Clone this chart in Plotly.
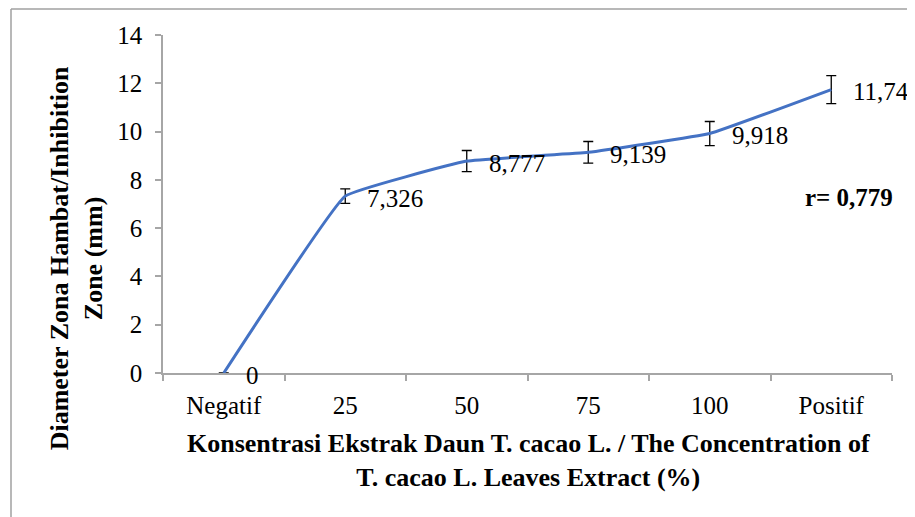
import plotly.graph_objects as go

categories = ["Negatif", "25", "50", "75", "100", "Positif"]
values = [0, 7.326, 8.777, 9.139, 9.918, 11.74]
errors = [0, 0.3, 0.44, 0.45, 0.5, 0.58]
labels = ["0", "7,326", "8,777", "9,139", "9,918", "11,74"]
y_ticks = [0, 2, 4, 6, 8, 10, 12, 14]

FONT = "Liberation Serif"
AX = "#a6a6a6"

fig = go.Figure()
fig.add_trace(go.Scatter(
    x=categories, y=values, mode="lines",
    line=dict(color="#4472C4", width=3, shape="spline", smoothing=0.25),
    error_y=dict(type="data", array=errors, visible=True, color="black",
                 thickness=1.3, width=5),
    showlegend=False, hoverinfo="skip",
))

for i, (v, t) in enumerate(zip(values, labels)):
    fig.add_annotation(x=i, y=v, text=t, showarrow=False, xanchor="left",
                       yanchor="middle", xshift=20, yshift=-2,
                       font=dict(family=FONT, size=25, color="black"))

fig.add_annotation(xref="paper", yref="paper", x=1.004, y=0.518, text="<b>r= 0,779</b>",
                   showarrow=False, xanchor="right", yanchor="middle",
                   font=dict(family=FONT, size=25, color="black"))

fig.add_annotation(xref="paper", yref="paper", x=0.502, y=-0.16,
                   text="<b>Konsentrasi Ekstrak Daun T. cacao L. / The Concentration of<br>T. cacao L. Leaves Extract (%)</b>",
                   showarrow=False, xanchor="center", yanchor="top",
                   font=dict(family=FONT, size=26, color="black"))

fig.add_annotation(xref="paper", yref="paper", x=-0.119, y=0.34,
                   text="<b>Diameter Zona Hambat/Inhibition<br>Zone (mm)</b>",
                   textangle=-90, showarrow=False, xanchor="center", yanchor="middle",
                   font=dict(family=FONT, size=26, color="black"))

# outer frame lines (top and left)
fig.add_shape(type="line", xref="paper", yref="paper", x0=-0.2085, x1=1.05, y0=1.0769, y1=1.0769,
              line=dict(color="#a0a0a0", width=1.5))
fig.add_shape(type="line", xref="paper", yref="paper", x0=-0.2085, x1=-0.2085, y0=-0.45, y1=1.0769,
              line=dict(color="#a0a0a0", width=1.5))

fig.update_layout(
    width=907, height=509,
    margin=dict(l=155, r=23, t=27, b=144),
    paper_bgcolor="white", plot_bgcolor="white",
    font=dict(family=FONT, color="black"),
    xaxis=dict(type="category", showgrid=False, showline=True, linecolor=AX, linewidth=1.5,
               ticks="outside", tickson="boundaries", tickcolor=AX, ticklen=6, tickwidth=1.5,
               tickfont=dict(family=FONT, size=25), range=[-0.5, 5.5], zeroline=False,
               ticklabelstandoff=9),
    yaxis=dict(range=[0, 14], tickvals=y_ticks, showgrid=False, showline=True, linecolor=AX,
               linewidth=1.5, ticks="outside", tickcolor=AX, ticklen=6, tickwidth=1.5,
               tickfont=dict(family=FONT, size=25), zeroline=False, ticklabelstandoff=8),
)

fig.write_html("out.html")
